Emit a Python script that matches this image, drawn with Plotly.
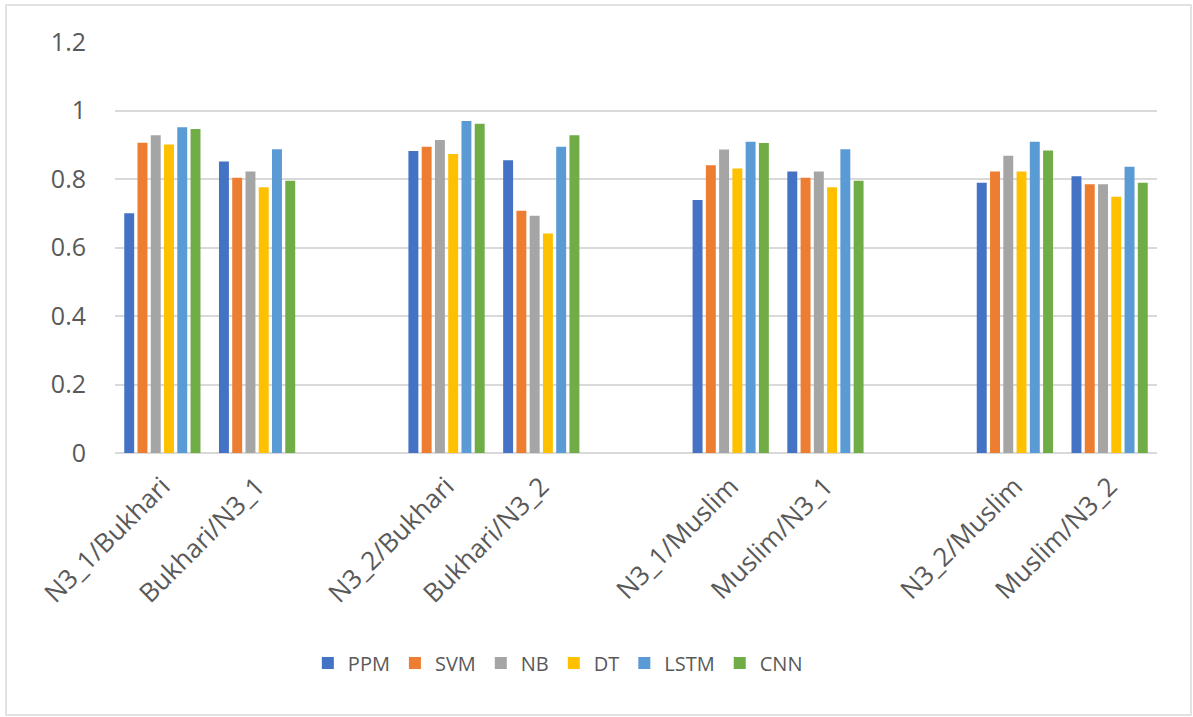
import plotly.graph_objects as go

# Train/test corpus pairs (a blank slot separates each pair of pairs)
categories = ["N3_1/Bukhari", "Bukhari/N3_1",
              "N3_2/Bukhari", "Bukhari/N3_2",
              "N3_1/Muslim", "Muslim/N3_1",
              "N3_2/Muslim", "Muslim/N3_2"]

ppm = [0.70, 0.851, 0.882, 0.855, 0.739, 0.822, 0.789, 0.808]
svm = [0.906, 0.804, 0.894, 0.707, 0.840, 0.804, 0.822, 0.785]
nb = [0.928, 0.822, 0.914, 0.693, 0.886, 0.822, 0.868, 0.785]
dt = [0.901, 0.776, 0.873, 0.641, 0.831, 0.776, 0.822, 0.748]
lstm = [0.951, 0.887, 0.969, 0.894, 0.909, 0.887, 0.909, 0.836]
cnn = [0.946, 0.795, 0.961, 0.928, 0.905, 0.795, 0.883, 0.789]

y_ticks = [0, 0.2, 0.4, 0.6, 0.8, 1, 1.2]
y_tick_labels = ["0", "0.2", "0.4", "0.6", "0.8", "1", "1.2"]

series = [("PPM", ppm, "#4472C4"), ("SVM", svm, "#ED7D31"), ("NB", nb, "#A5A5A5"),
          ("DT", dt, "#FFC000"), ("LSTM", lstm, "#5B9BD5"), ("CNN", cnn, "#70AD47")]

# slot index on the x axis: two categories, then an empty slot
positions = [i + i // 2 for i in range(len(categories))]

FONT = "'Open Sans', Lato, sans-serif"
TEXT = "#595959"
GRID = "#d9d9d9"

fig = go.Figure()
for name, vals, color in series:
    fig.add_trace(go.Bar(x=positions, y=vals, name=name,
                         marker=dict(color=color, line=dict(width=0))))

fig.update_layout(
    width=1193, height=717,
    margin=dict(l=115, r=36, t=42, b=264),
    paper_bgcolor="white", plot_bgcolor="white",
    barmode="group", bargap=0.16, bargroupgap=0.25,
    font=dict(family=FONT, color=TEXT, size=18),
    showlegend=True,
    legend=dict(orientation="h", x=0.425, xanchor="center", y=-0.511, yanchor="middle",
                font=dict(size=20, color=TEXT), itemwidth=30, traceorder="normal"),
    xaxis=dict(range=[-0.5, 10.5], tickmode="array", tickvals=positions,
               ticktext=categories, tickangle=-45, showgrid=False,
               zeroline=False, showline=False, ticks="",
               tickfont=dict(size=26, color=TEXT), ticklabelstandoff=12),
    yaxis=dict(range=[0, 1.2], tickmode="array", tickvals=y_ticks,
               ticktext=y_tick_labels, showgrid=True, gridcolor=GRID, gridwidth=1.5,
               zeroline=True, zerolinecolor=GRID, zerolinewidth=1.5,
               showline=False, ticks="", tickfont=dict(size=25, color=TEXT),
               ticklabelstandoff=28),
)

# outer chart border
fig.add_shape(type="rect", xref="paper", yref="paper",
              x0=-0.1046, x1=1.0326, y0=-0.6375, y1=1.090,
              line=dict(color=GRID, width=1.5), fillcolor="rgba(0,0,0,0)", layer="below")

fig.write_html("out.html")
